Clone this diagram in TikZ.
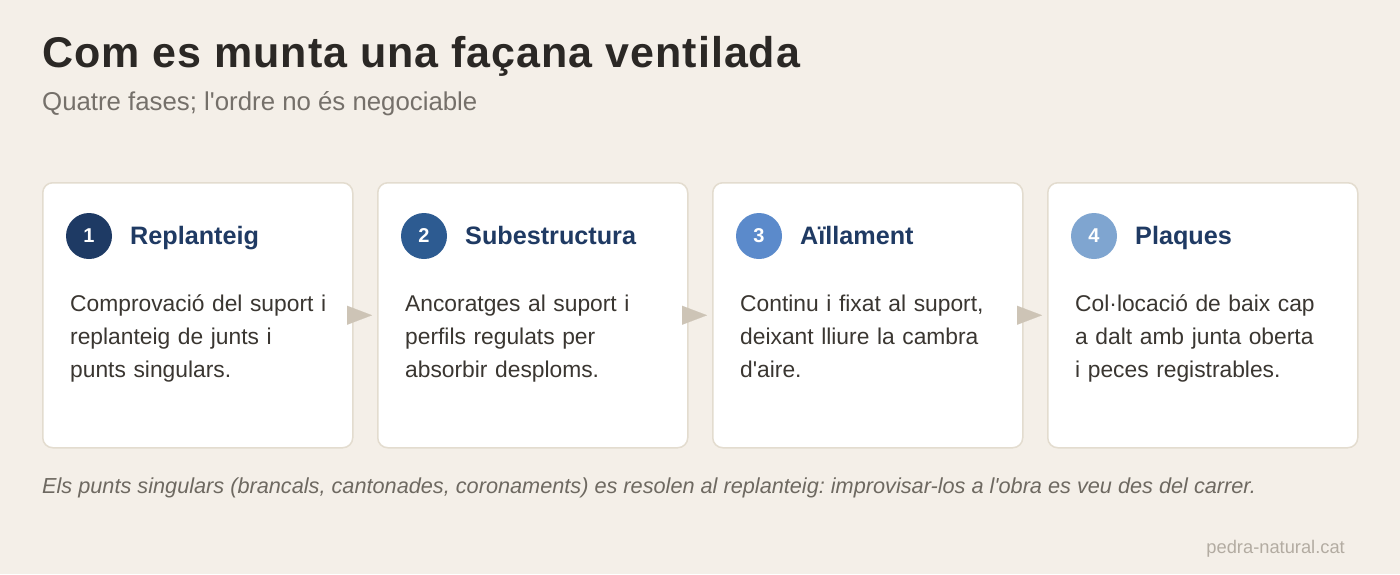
\documentclass[tikz,border=0pt]{standalone}
\usepackage{fontspec}
\setmainfont{Liberation Sans}
\usepackage{tikz}
\usetikzlibrary{calc,arrows.meta,positioning}
\definecolor{pagebg}{HTML}{F4EFE8}
\definecolor{cardline}{HTML}{E3DCCF}
\definecolor{titletext}{HTML}{2B2825}
\definecolor{subtext}{HTML}{75706A}
\definecolor{bodytext}{HTML}{3A3631}
\definecolor{notetext}{HTML}{6E6961}
\definecolor{marktext}{HTML}{B3ACA2}
\definecolor{arrowgray}{HTML}{CDC4B6}
\definecolor{headblue}{HTML}{1F3A63}
\definecolor{stepone}{HTML}{1E3A64}
\definecolor{steptwo}{HTML}{2D5B91}
\definecolor{stepthree}{HTML}{5B8ACB}
\definecolor{stepfour}{HTML}{7FA5D0}
\frenchspacing

\begin{document}
\begin{tikzpicture}[x=1pt,y=-1pt,
  card/.style={draw=cardline,fill=white,line width=1.5pt,rounded corners=10pt,
    minimum width=310pt,minimum height=265pt,inner sep=0pt,anchor=north west},
  badge/.style={circle,minimum size=46pt,inner sep=0pt,text=white,
    font=\fontsize{20}{24}\selectfont\bfseries},
  heading/.style={anchor=base west,inner sep=0pt,text=headblue,
    font=\fontsize{25.2}{30}\selectfont\bfseries},
  body/.style={anchor=base west,inner sep=0pt,text width=280pt,align=left,
    text=bodytext,font=\fontsize{22.8}{33}\selectfont},
  flow/.style={draw=arrowgray,line width=0.1pt,-{Triangle[length=25pt,width=19pt]},
    shorten <=-5pt,shorten >=5pt}]

  \fill[pagebg] (0,0) rectangle (1400,574);
  \useasboundingbox (0,0) rectangle (1400,574);

  % title block
  \node[anchor=base west,inner sep=0pt,text=titletext,
    font=\fontsize{43}{50}\selectfont\bfseries\addfontfeatures{LetterSpace=2.3}] (title) at (42,67)
    {Com es munta una façana ventilada};
  \node[anchor=base west,inner sep=0pt,text=subtext,
    font=\fontsize{25.8}{30}\selectfont] (subtitle) at (42,110)
    {Quatre fases; l\textquotesingle ordre no és negociable};

  % the four phases
  \foreach \i/\head/\col/\txt in {
      1/Replanteig/stepone/{Comprovació del suport i\\replanteig de junts i\\punts singulars.},
      2/Subestructura/steptwo/{Ancoratges al suport i\\perfils regulats per\\absorbir desploms.},
      3/Aïllament/stepthree/{Continu i fixat al suport,\\deixant lliure la cambra\\d\textquotesingle aire.},
      4/Plaques/stepfour/{Col·locació de baix cap\\a dalt amb junta oberta\\i peces registrables.}} {
    \node[card] (card\i) at ({42+(\i-1)*335},182) {};
    \node[badge,fill=\col] (badge\i) at ($(card\i.north west)+(47,54)$) {\i};
    \node[heading] (head\i) at ($(badge\i.center)+(41,8)$) {\head};
    \node[body] (text\i) at ($(card\i.north west)+(28,129)$) {\txt};
  }

  \foreach \a/\b in {1/2,2/3,3/4}
    \draw[flow] (card\a.east) -- (card\b.west);

  % footer
  \node[anchor=base west,inner sep=0pt,text=notetext,
    font=\fontsize{21.7}{26}\selectfont\itshape] (note) at (42,493)
    {Els punts singulars (brancals, cantonades, coronaments) es resolen al replanteig: improvisar-los a l\textquotesingle obra es veu des del carrer.};
  \node[anchor=base east,inner sep=0pt,text=marktext,
    font=\fontsize{18.3}{22}\selectfont] (mark) at (1345,553) {pedra-natural.cat};
\end{tikzpicture}
\end{document}
